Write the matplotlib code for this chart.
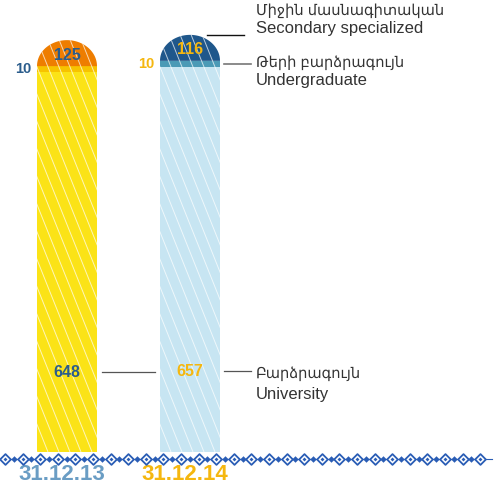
import numpy as np
import matplotlib
matplotlib.use('Agg')
import matplotlib.pyplot as plt
from matplotlib.patches import Polygon, Rectangle
from matplotlib.collections import LineCollection

plt.rcParams['font.family'] = ['Liberation Sans', 'DejaVu Sans']

## data ---------------------------------------------------------------
dates = ['31.12.13', '31.12.14']
university = [648, 657]
undergraduate = [10, 10]
secondary = [125, 116]

labels_hy = ['Միջին մասնագիտական', 'Թերի բարձրագույն', 'Բարձրագույն']
labels_en = ['Secondary specialized', 'Undergraduate', 'University']

## colours ------------------------------------------------------------
base_col = ['#fbe317', '#c7e5f2']
band_col = ['#f7c300', '#4b9ab6']
dome_col = ['#ee7d00', '#1f578b']
num_col = ['#2b5d8c', '#f5b70f']
date_col = ['#6a9dc4', '#f5b70f']
text_col = '#333333'
deco_col = '#2a5db5'

## layout (pixels of the 503x488 picture) -----------------------------
W, H = 503, 488
xu = 123.0             # px between bar centres
x0 = 67.0              # px of first bar centre
base_px = 452.0        # px of bar bottom
s = 380.0 / university[0]   # px per unit
bar_w = 60.0 / xu
dome_h = 26.0 / s

def X(px):
    return (px - x0) / xu

def Y(py):
    return (base_px - py) / s

fig = plt.figure(figsize=(W / 100, H / 100), dpi=100)
ax = fig.add_axes([0, 0, 1, 1])
ax.set_xlim(X(0), X(W))
ax.set_ylim(Y(H), Y(0))
ax.axis('off')

for i in range(len(dates)):
    left = i - bar_w / 2
    top = university[i] + undergraduate[i]
    ax.add_patch(Rectangle((left, 0), bar_w, university[i], fc=base_col[i], ec='none'))
    ax.add_patch(Rectangle((left, university[i]), bar_w, undergraduate[i],
                           fc=band_col[i], ec='none'))
    t = np.linspace(np.pi, 0, 60)
    dx = i + bar_w / 2 * np.cos(t)
    dy = top + dome_h * np.sin(t)
    ax.add_patch(Polygon(np.column_stack([dx, dy]), closed=True, fc=dome_col[i], ec='none'))

    # white diagonal hatch clipped to the bar shape
    outline = [(left, 0)] + list(zip(dx, dy)) + [(left + bar_w, 0)]
    clip = Polygon(outline, closed=True, transform=ax.transData)
    drop = 0.4 * (base_px - 20)
    segs = []
    for sx in np.arange(x0 + i * xu - 30 - drop, x0 + i * xu + 40, 11):
        segs.append([(X(sx), Y(20)), (X(sx + drop), Y(base_px))])
    lc = LineCollection(segs, colors='white', linewidths=0.7, alpha=0.7, zorder=2)
    ax.add_collection(lc)
    lc.set_clip_path(clip)

    # numbers
    ax.text(i, top + dome_h * 0.42, str(secondary[i]), ha='center', va='center',
            fontsize=11.5, fontweight='bold', color=num_col[i], zorder=10)
    ax.text(left - 6 / xu, university[i] + undergraduate[i] / 2, str(undergraduate[i]),
            ha='right', va='center', fontsize=10.5, fontweight='bold', color=num_col[i],
            zorder=10)
    ax.text(i, university[i] * 0.21, str(university[i]), ha='center', va='center',
            fontsize=11.5, fontweight='bold', color=num_col[i], zorder=10)

    # date labels
    ax.text(i - 5 / xu, Y(480), dates[i], ha='center', va='baseline', fontsize=16,
            fontweight='bold', color=date_col[i])

## connector lines ----------------------------------------------------
r2 = 1 + bar_w / 2
ax.plot([bar_w / 2 + 5 / xu, 1 - bar_w / 2 - 5 / xu], [university[0] * 0.21] * 2,
        color='#555555', lw=0.9)
ax.plot([r2 + 4 / xu, X(251)], [university[1] * 0.21] * 2, color='#555555', lw=0.9)
ax.plot([r2 + 4 / xu, X(251)], [university[1] + undergraduate[1] / 2] * 2,
        color='#777777', lw=1.2)
top2 = university[1] + undergraduate[1] + dome_h
ax.plot([X(207), X(244)], [top2, top2], color='#111111', lw=1.0)

## category labels ----------------------------------------------------
tx = X(256)
ax.text(tx, top2 + 24 / s, labels_hy[0], ha='left', va='center', fontsize=10.5, color=text_col)
ax.text(tx, top2 + 6 / s, labels_en[0], ha='left', va='center', fontsize=12, color=text_col)
band_y = university[1] + undergraduate[1] / 2
ax.text(tx, band_y + 1 / s, labels_hy[1], ha='left', va='center', fontsize=10.5, color=text_col)
ax.text(tx, band_y - 17 / s, labels_en[1], ha='left', va='center', fontsize=12, color=text_col)
uy = university[1] * 0.21
ax.text(tx, uy - 3 / s, labels_hy[2], ha='left', va='center', fontsize=10.5, color=text_col)
ax.text(tx, uy - 23 / s, labels_en[2], ha='left', va='center', fontsize=12, color=text_col)

## decorative ornament ------------------------------------------------
big = np.arange(5, 492, 17.6)
small = big[:-1] + 8.8
yd = Y(458.5)
ax.plot([X(0), X(492)], [yd, yd], color=deco_col, lw=0.8, zorder=3)
ax.scatter(X(big), [yd] * len(big), marker='D', s=30, facecolor='white',
           edgecolor=deco_col, linewidths=1.3, zorder=4)
ax.scatter(X(big), [yd] * len(big), marker='D', s=4, color=deco_col, lw=0, zorder=5)
ax.scatter(X(small), [yd] * len(small), marker='D', s=11, color=deco_col, lw=0, zorder=4)

fig.savefig('out.png', dpi=100)
